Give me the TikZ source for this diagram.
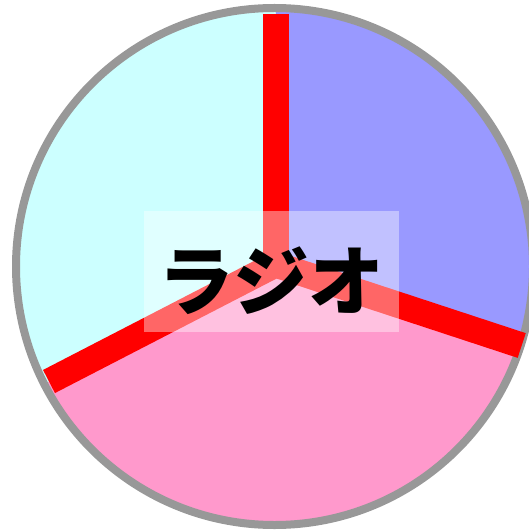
\documentclass[tikz,border=0pt]{standalone}
\usepackage{fontspec}
\newfontfamily\jpfont{Noto Sans CJK JP}
\usepackage{tikz}
\usetikzlibrary{positioning,calc}
\definecolor{pieCyan}{HTML}{CCFFFF}
\definecolor{pieBlue}{HTML}{9999FF}
\definecolor{piePink}{HTML}{FF99CC}
\definecolor{rimGray}{HTML}{989898}

\begin{document}
\begin{tikzpicture}[
    x=1bp, y=-1bp,
    rim/.style={draw=rimGray, line width=8bp},
    spoke/.style={draw=red, line width=26bp},
    labelbox/.style={rectangle, fill=white, fill opacity=0.4, text opacity=1, inner sep=0pt,
        minimum width=255.3bp, minimum height=120.7bp, font=\jpfont\bfseries\fontsize{76}{80}\selectfont}
]
\clip (0,0) rectangle (529,531);

% Centre and spoke ends
\coordinate (mid) at (275.5,264.5);
\coordinate (rc) at (274.5,266.5);
\coordinate (topend) at (275.5,14);
\coordinate (rightend) at (521.7,345.5);
\coordinate (leftend) at (49,381.5);

% Sectors
\begin{scope}
  \clip (rc) circle[radius=258.5];
  \fill[pieBlue] (mid) -- ($(mid)!2!(topend)$) -- (560,-20) -- ($(mid)!2!(rightend)$) -- cycle;
  \fill[piePink] (mid) -- ($(mid)!2!(rightend)$) -- (560,560) -- (-20,560) -- ($(mid)!2!(leftend)$) -- cycle;
  \fill[pieCyan] (mid) -- ($(mid)!2!(leftend)$) -- (-20,-20) -- ($(mid)!2!(topend)$) -- cycle;
\end{scope}

% Rim
\draw[rim] (rc) circle[radius=258.5];

% Spokes
\draw[spoke] (mid) -- (topend);
\draw[spoke] (mid) -- (rightend);
\draw[spoke] (mid) -- (leftend);

% Label
\node[labelbox] (radio) at (271.7,271.3) {\raisebox{-38bp}[0pt][0pt]{ラジオ}};

\end{tikzpicture}
\end{document}
